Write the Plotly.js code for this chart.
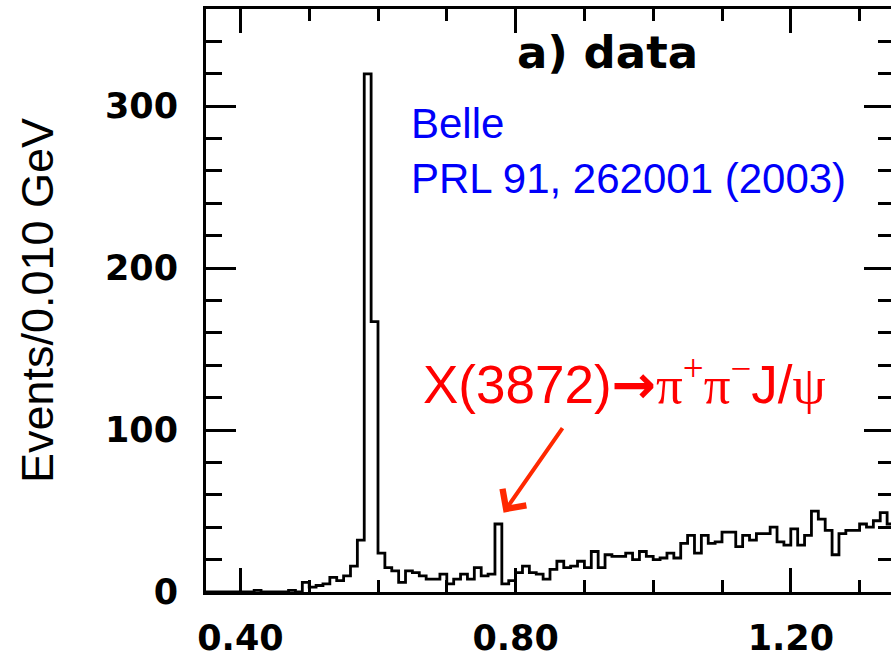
<!DOCTYPE html>
<html>
<head>
<meta charset="utf-8">
<script src="https://cdn.plot.ly/plotly-3.0.1.min.js"></script>
<style>
html, body { margin:0; padding:0; overflow:hidden; background:#fff; }
#chart { width:894px; height:661px; }
</style>
</head>
<body>
<div id="chart"></div>
<script>
// Histogram: lower bin edge of first bin and bin width (GeV)
const binStart = 0.35;
const binWidth = 0.010;
// Events per 0.010 GeV bin, bins from 0.35 to 1.35
const events = [
  0, 0, 0, 0, 0, 0, 0, 1, 0, 0,          // 0.35-0.44
  0, 0, 1, 0, 6, 3, 4, 5, 9, 7,          // 0.45-0.54
  10, 16, 32, 320, 167, 24, 15, 13, 6, 13, // 0.55-0.64
  12, 10, 8, 8, 11, 5, 8, 11, 8, 15,     // 0.65-0.74
  10, 11, 42, 5, 7, 12, 16, 12, 11, 8,   // 0.75-0.84
  14, 19, 15, 16, 19, 15, 25, 15, 23, 22, // 0.85-0.94
  22, 24, 20, 25, 22, 20, 21, 24, 21, 30, // 0.95-1.04
  35, 24, 35, 30, 31, 37, 37, 28, 35, 32, // 1.05-1.14
  36, 36, 40, 31, 29, 39, 29, 35, 50, 45, // 1.15-1.24
  38, 23, 36, 38, 38, 42, 40, 44, 49, 42  // 1.25-1.34
];
const xTickLabels = ['0.40', '0.80', '1.20'];
const yTickLabels = ['0', '100', '200', '300'];
const panelLabel = 'a) data';
const refText = 'Belle<br>PRL 91, 262001 (2003)';
const peakPosition = 0.7825;
const peakValue = 49;

// step outline: left edges + final right edge
const edges = events.map((_, i) => +(binStart + i * binWidth).toFixed(3));
edges.push(+(binStart + events.length * binWidth).toFixed(3));
const yStep = events.concat([events[events.length - 1]]);

const trace = {
  type: 'scatter', mode: 'lines',
  x: edges, y: yStep,
  line: { shape: 'hv', color: '#000', width: 2.8 },
  hoverinfo: 'skip', showlegend: false
};

const tickFont = { family: 'DejaVu Sans', size: 35, color: '#000', weight: 'bold' };

const layout = {
  width: 894, height: 661,
  margin: { l: 206, r: 0, t: 9, b: 69 },
  paper_bgcolor: '#fff', plot_bgcolor: '#fff',
  showlegend: false,
  xaxis: {
    range: [0.35, 1.35],
    tickmode: 'array', tickvals: [0.4, 0.8, 1.2], ticktext: xTickLabels,
    ticks: 'inside', ticklen: 24, tickwidth: 3, tickcolor: '#000',
    minor: { tickmode: 'linear', tick0: 0.4, dtick: 0.1, ticks: 'inside', ticklen: 12, tickwidth: 3, tickcolor: '#000' },
    showline: true, linecolor: '#000', linewidth: 3, mirror: 'allticks',
    showgrid: false, zeroline: false,
    tickfont: tickFont, ticklabelstandoff: 13
  },
  yaxis: {
    range: [0, 360],
    tickmode: 'array', tickvals: [0, 100, 200, 300], ticktext: yTickLabels,
    ticks: 'inside', ticklen: 30, tickwidth: 3, tickcolor: '#000',
    minor: { tickmode: 'linear', tick0: 0, dtick: 20, ticks: 'inside', ticklen: 16, tickwidth: 3, tickcolor: '#000' },
    showline: true, linecolor: '#000', linewidth: 3, mirror: 'allticks',
    showgrid: false, zeroline: false,
    tickfont: tickFont, ticklabelstandoff: 18,
    title: { text: 'Events/0.010 GeV', font: { family: 'Liberation Sans', size: 45, color: '#000' }, standoff: 38 }
  },
  annotations: [
    { xref: 'paper', yref: 'paper', x: 0.583, y: 0.925, xanchor: 'center', yanchor: 'middle',
      text: panelLabel, showarrow: false,
      font: { family: 'DejaVu Sans', size: 45, color: '#000', weight: 'bold' } },
    { xref: 'paper', yref: 'paper', x: 0.2950, y: 0.847, xanchor: 'left', yanchor: 'top', align: 'left',
      text: refText, showarrow: false,
      font: { family: 'Liberation Sans', size: 42, color: 'rgb(0,0,250)' } },
    { xref: 'paper', yref: 'paper', x: 0.3130, y: 0.422, xanchor: 'left', yanchor: 'top', align: 'left',
      text: "X(3872)<span style='font-family:DejaVu Sans;font-weight:bold'>→</span><span style='font-family:Liberation Serif'>π<sup>+</sup>π<sup>−</sup></span>J/<span style='font-family:Liberation Serif'>ψ</span>",
      showarrow: false,
      font: { family: 'Liberation Sans', size: 53, color: 'rgb(255,0,0)' } },
    { xref: 'x', yref: 'y', x: peakPosition, y: peakValue, text: '',
      showarrow: true, axref: 'pixel', ayref: 'pixel', ax: 60, ay: -86,
      arrowhead: 4, arrowsize: 1.4, arrowwidth: 4, arrowcolor: 'rgb(255,40,0)', standoff: 0 }
  ]
};

Plotly.newPlot('chart', [trace], layout, { displayModeBar: false, staticPlot: true });
</script>
</body>
</html>
